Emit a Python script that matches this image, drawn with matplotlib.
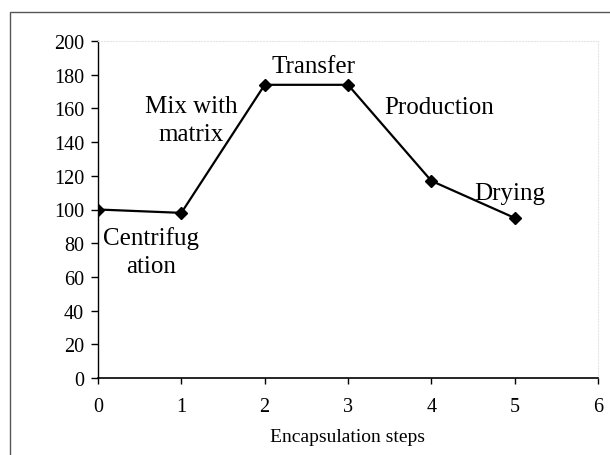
import matplotlib
matplotlib.use("Agg")
import matplotlib.pyplot as plt
from matplotlib.patches import Rectangle

steps = [0, 1, 2, 3, 4, 5]
values = [100, 98, 174, 174, 117, 95]

# step annotations: label text, x, y in data units
step_labels = ["Centrifug\nation", "Mix with\nmatrix", "Transfer", "Production", "Drying"]
label_x = [0.64, 1.12, 2.58, 4.09, 4.94]
label_y = [75, 153, 185, 161, 110]

x_ticks = [0, 1, 2, 3, 4, 5, 6]
y_ticks = [0, 20, 40, 60, 80, 100, 120, 140, 160, 180, 200]

plt.rcParams['font.family'] = ['Liberation Serif', 'DejaVu Serif']

fig = plt.figure(figsize=(6.10, 4.56), dpi=100)
ax = fig.add_axes([98 / 610, 1 - 379 / 456, 500 / 610, 337 / 456])

# outer frame (only top and left edges visible in the scan)
fig.patches.append(Rectangle((10 / 610, -0.2), 1.2, 0.2 + 1 - 13 / 456,
                             transform=fig.transFigure, fill=False,
                             edgecolor='#555555', linewidth=1.0))

ax.plot(steps, values, color='black', linewidth=1.6,
        marker='D', markersize=6.5, markerfacecolor='black')

for txt, lx, ly in zip(step_labels, label_x, label_y):
    ax.text(lx, ly, txt, ha='center', va='center', fontsize=18,
            linespacing=1.35)

ax.set_xlim(0, 6)
ax.set_ylim(0, 200)
ax.set_xticks(x_ticks)
ax.set_yticks(y_ticks)
ax.tick_params(axis='y', direction='out', length=5, width=1, pad=5, labelsize=14.5)
ax.tick_params(axis='x', direction='out', length=4, width=1, pad=10, labelsize=14.5)
ax.set_xlabel('Encapsulation steps', fontsize=14, labelpad=8)

ax.spines['left'].set_linewidth(1.0)
ax.spines['bottom'].set_linewidth(1.2)
for side in ('top', 'right'):
    ax.spines[side].set_color('#e6e6e6')
    ax.spines[side].set_linestyle(':')
    ax.spines[side].set_linewidth(0.8)

fig.savefig('out.png', dpi=100)
